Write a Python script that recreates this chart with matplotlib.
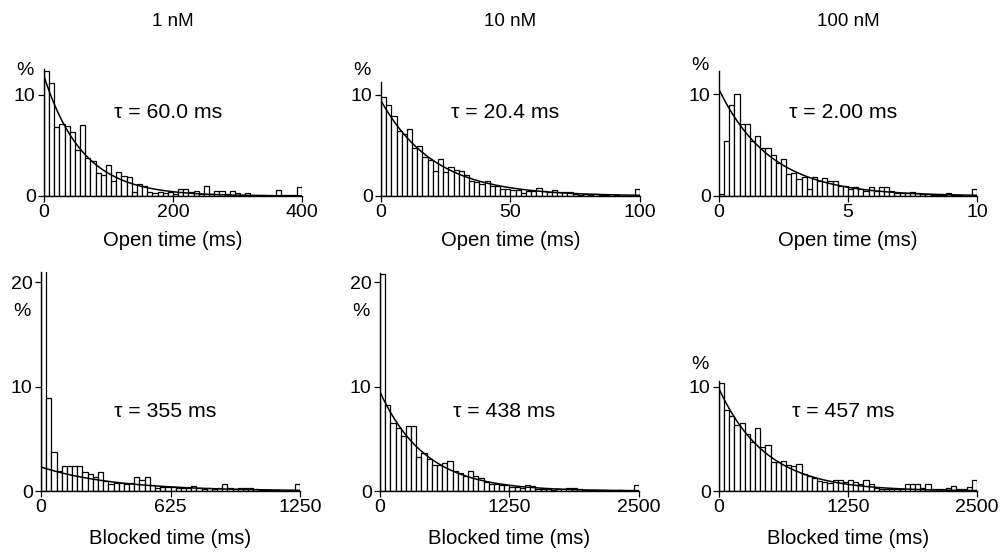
import matplotlib
matplotlib.use('Agg')
import matplotlib.pyplot as plt
import numpy as np

plt.rcParams['font.family'] = ['Liberation Sans', 'DejaVu Sans']

# dwell-time histograms, % of events per bin (50 bins each)
open_1nM = [12.3, 11.1, 6.8, 7.1, 6.9, 6.3, 4.5, 7.0, 3.7, 3.4,
            2.3, 2.1, 3.1, 1.5, 2.4, 2.0, 1.9, 0.4, 1.2, 1.0,
            0.4, 0.3, 0.4, 0.3, 0.4, 0.2, 0.7, 0.7, 0.4, 0.5,
            0.2, 1.0, 0.2, 0.5, 0.5, 0.2, 0.5, 0.3, 0.1, 0.3,
            0.1, 0.1, 0.1, 0.0, 0.0, 0.6, 0.1, 0.1, 0.1, 0.9]
open_10nM = [9.8, 9.0, 7.9, 6.4, 6.1, 6.6, 4.7, 4.9, 3.8, 3.5,
             2.5, 3.6, 2.4, 2.9, 2.6, 2.5, 2.1, 1.5, 1.4, 1.2,
             1.5, 1.0, 1.0, 0.7, 0.7, 0.6, 0.6, 0.3, 0.5, 0.5,
             0.8, 0.5, 0.4, 0.6, 0.4, 0.4, 0.4, 0.2, 0.1, 0.2,
             0.1, 0.2, 0.1, 0.1, 0.0, 0.1, 0.0, 0.0, 0.0, 0.7]
open_100nM = [0.2, 5.4, 9.0, 10.0, 7.1, 7.1, 5.4, 5.9, 4.7, 4.7,
              4.0, 3.3, 3.6, 2.2, 2.3, 1.7, 1.9, 0.7, 1.9, 1.5,
              1.8, 1.5, 1.5, 1.0, 1.0, 0.7, 0.9, 0.7, 0.5, 0.9,
              0.5, 0.9, 0.9, 0.5, 0.3, 0.3, 0.3, 0.4, 0.3, 0.2,
              0.2, 0.1, 0.1, 0.1, 0.3, 0.1, 0.1, 0.0, 0.0, 0.7]
blocked_1nM = [28.0, 8.9, 3.7, 1.9, 2.4, 2.4, 2.4, 2.4, 1.8, 1.6,
               1.3, 1.8, 1.0, 0.7, 0.8, 0.8, 0.7, 0.8, 1.3, 1.1,
               1.3, 0.6, 0.3, 0.4, 0.4, 0.4, 0.3, 0.3, 0.3, 0.5,
               0.3, 0.2, 0.3, 0.2, 0.3, 0.7, 0.3, 0.2, 0.3, 0.3,
               0.3, 0.2, 0.1, 0.1, 0.1, 0.1, 0.0, 0.0, 0.1, 0.7]
blocked_10nM = [20.8, 8.2, 6.5, 6.0, 5.3, 6.2, 6.2, 3.3, 3.6, 3.1,
                2.5, 2.5, 2.7, 2.9, 1.9, 1.7, 1.4, 1.9, 1.4, 1.2,
                0.9, 0.7, 0.7, 0.6, 0.6, 0.4, 0.4, 0.3, 0.6, 0.5,
                0.2, 0.2, 0.2, 0.1, 0.2, 0.2, 0.3, 0.3, 0.2, 0.1,
                0.1, 0.1, 0.1, 0.1, 0.0, 0.0, 0.1, 0.0, 0.0, 0.6]
blocked_100nM = [10.4, 7.8, 7.2, 6.3, 6.5, 5.5, 4.7, 6.0, 4.2, 4.4,
                 2.8, 2.8, 2.9, 2.5, 2.4, 2.6, 1.6, 1.4, 1.2, 1.0,
                 0.9, 0.8, 1.1, 1.1, 0.9, 1.1, 0.9, 0.7, 1.1, 0.7,
                 0.3, 0.2, 0.2, 0.2, 0.2, 0.2, 0.7, 0.7, 0.7, 0.3,
                 0.7, 0.2, 0.2, 0.2, 0.3, 0.5, 0.2, 0.2, 0.4, 1.1]

concentrations = ['1 nM', '10 nM', '100 nM']
open_hists = [open_1nM, open_10nM, open_100nM]
blocked_hists = [blocked_1nM, blocked_10nM, blocked_100nM]
open_xmax = [400, 100, 10]
blocked_xmax = [1250, 2500, 2500]
open_xticks = [[0, 200, 400], [0, 50, 100], [0, 5, 10]]
blocked_xticks = [[0, 625, 1250], [0, 1250, 2500], [0, 1250, 2500]]
open_tau = [60.0, 20.4, 2.00]
open_tau_text = ['60.0', '20.4', '2.00']
blocked_tau = [355, 438, 457]
# fitted amplitude at t=0 (%)
open_amp = [11.8, 9.4, 10.5]
blocked_amp = [2.3, 9.5, 9.8]

open_ymax = [12.5, 11.2, 12.3]
blocked_ymax = [21.0, 20.9, 10.5]
blocked_yticks = [[0, 10, 20], [0, 10, 20], [0, 10]]
pct_y_open = [12.4, 12.4, 12.9]
pct_y_blocked = [17.2, 17.2, 12.1]

W, H = 1003, 552
fig = plt.figure(figsize=(W / 100, H / 100), dpi=100)

lefts = [[44, 381, 719], [41, 380, 719]]
widths = [[258, 259, 258], [259, 259, 258]]
base = [196, 491]
pxper = [10.15, 10.43]


def panel(row, col, vals, xmax, xticks, yticks, ymax, amp, tau, tau_txt, xlabel, pct_y, ty):
    left = lefts[row][col]
    h = ymax * pxper[row]
    ax = fig.add_axes([left / W, (H - base[row]) / H,
                       widths[row][col] / W, h / H])
    n = len(vals)
    edges = np.linspace(0, xmax, n + 1)
    ax.bar(edges[:-1], vals, width=xmax / n, align='edge', color='white',
           edgecolor='black', linewidth=0.9)
    t = np.linspace(0, xmax, 500)
    ax.plot(t, amp * np.exp(-t / tau), color='black', lw=1.1)
    ax.set_xlim(0, xmax)
    ax.set_ylim(0, ymax)
    ax.set_xticks(xticks)
    ax.set_yticks(yticks)
    for s in ['top', 'right']:
        ax.spines[s].set_visible(False)
    for s in ['left', 'bottom']:
        ax.spines[s].set_linewidth(1.0)
    ax.tick_params(direction='out', length=4.5, width=0.9, labelsize=14, pad=1.5)
    ax.set_xlabel(xlabel, fontsize=14.6, labelpad=7 if row == 0 else 9)
    ax.text(0.48 * xmax, ty, '\u03c4 = ' + tau_txt + ' ms', fontsize=15.3,
            ha='center', va='center')
    ax.annotate('%', xy=(0, pct_y), xycoords=('axes fraction', 'data'),
                xytext=(-19, 0), textcoords='offset pixels',
                ha='center', va='center', fontsize=14, annotation_clip=False)
    return ax


for c in range(3):
    panel(0, c, open_hists[c], open_xmax[c], open_xticks[c], [0, 10],
          open_ymax[c], open_amp[c], open_tau[c], open_tau_text[c],
          'Open time (ms)', pct_y_open[c], 8.2)
    panel(1, c, blocked_hists[c], blocked_xmax[c], blocked_xticks[c],
          blocked_yticks[c], blocked_ymax[c], blocked_amp[c], blocked_tau[c],
          str(blocked_tau[c]), 'Blocked time (ms)', pct_y_blocked[c], 7.6)
    cx = (lefts[0][c] + widths[0][c] / 2) / W
    fig.text(cx, 1 - 22 / H, concentrations[c], ha='center', va='center',
             fontsize=13.5)

fig.savefig('out.png', dpi=100)
